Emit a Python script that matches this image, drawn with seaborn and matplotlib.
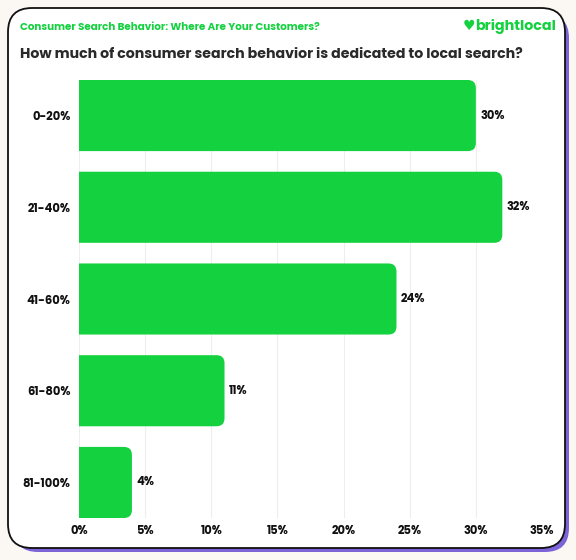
import matplotlib
matplotlib.use("Agg")
import matplotlib.pyplot as plt
import seaborn as sns
import pandas as pd
from matplotlib.patches import FancyBboxPatch

categories = ["0-20%", "21-40%", "41-60%", "61-80%", "81-100%"]
values = [30, 32, 24, 11, 4]
xticks = [0, 5, 10, 15, 20, 25, 30, 35]
xticklabels = ["0%", "5%", "10%", "15%", "20%", "25%", "30%", "35%"]
supertitle = "Consumer Search Behavior: Where Are Your Customers?"
title = "How much of consumer search behavior is dedicated to local search?"
brand = "brightlocal"

GREEN = "#14d13f"
BG = "#fbf8f3"
PURPLE = "#7c63d8"
FONT = ["Poppins", "Inter", "DejaVu Sans"]

sns.set_theme(style="white")
plt.rcParams["font.family"] = FONT

W, H = 576, 560
fig = plt.figure(figsize=(W / 100, H / 100), dpi=100)
fig.patch.set_facecolor(BG)

# card background with purple shadow
bg_ax = fig.add_axes([0, 0, 1, 1])
bg_ax.set_xlim(0, W)
bg_ax.set_ylim(H, 0)
bg_ax.axis("off")
bg_ax.add_patch(FancyBboxPatch((14, 14), 555, 538, boxstyle="round,pad=0,rounding_size=24",
                               facecolor=PURPLE, edgecolor="none"))
bg_ax.add_patch(FancyBboxPatch((8, 8), 557, 540, boxstyle="round,pad=0,rounding_size=24",
                               facecolor="white", edgecolor="#111111", linewidth=1.3))

fig.text(20 / W, 1 - 27 / H, supertitle, color=GREEN, fontsize=7.45, fontweight="bold", va="center")
fig.text(20 / W, 1 - 55 / H, title, color="#2a2a2a", fontsize=10.2, fontweight="bold", va="center")
fig.text(556 / W, 1 - 26 / H, brand, color=GREEN, fontsize=10.3, fontweight="bold",
         va="center", ha="right")
fig.text(469 / W, 1 - 26 / H, "\u2665", color=GREEN, fontsize=10, fontweight="bold",
         va="center", ha="center", family=["DejaVu Sans"])

left, right, top, bottom = 79, 542, 80, 518
ax = fig.add_axes([left / W, 1 - bottom / H, (right - left) / W, (bottom - top) / H])
ax.set_facecolor("none")

df = pd.DataFrame({"category": categories, "value": values})
sns.barplot(data=df, x="value", y="category", color=GREEN, width=0.775, ax=ax, saturation=1)

ax.set_xlim(0, 35)
ax.set_ylim(4.3875, -0.3875)

# rounded right corners (left corners pushed outside the axes and clipped)
xpp = 35 / (right - left)
ypp = (4.3875 + 0.3875) / (bottom - top)
r = 8
ext = 3 * r * xpp
for p in list(ax.patches):
    x0, y0 = p.get_x(), p.get_y()
    w, h = p.get_width(), p.get_height()
    p.set_visible(False)
    fb = FancyBboxPatch((x0 - ext, y0), w + ext, h,
                        boxstyle=f"round,pad=0,rounding_size={r * xpp}",
                        mutation_aspect=ypp / xpp,
                        facecolor=GREEN, edgecolor="none", zorder=2)
    ax.add_patch(fb)
    fb.set_clip_path(ax.patch)
    ax.text(w + 0.35, y0 + h / 2, f"{int(w)}%", va="center", ha="left",
            fontsize=8.3, fontweight="bold", color="#111111")

ax.set_xticks(xticks)
ax.set_xticklabels(xticklabels)
ax.grid(axis="x", color="#eeeeee", linewidth=0.8, zorder=0)
ax.set_axisbelow(True)
for s in ax.spines.values():
    s.set_visible(False)
ax.set_xlabel("")
ax.set_ylabel("")
ax.tick_params(axis="both", length=0, labelsize=8.3, colors="#111111")
ax.tick_params(axis="y", pad=6)
ax.tick_params(axis="x", pad=5)
for lab in ax.get_xticklabels() + ax.get_yticklabels():
    lab.set_fontweight("bold")

fig.savefig("out.png", dpi=100, facecolor=BG)
